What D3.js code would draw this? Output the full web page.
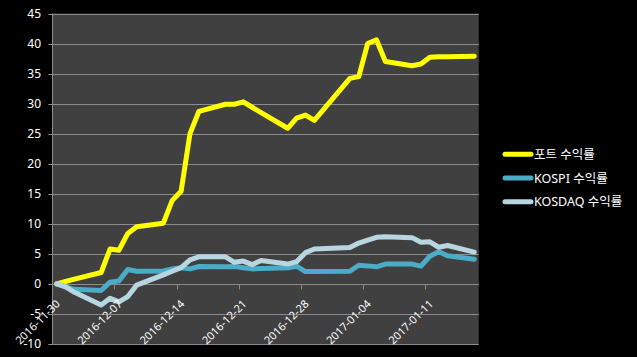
<!DOCTYPE html>
<html><head><meta charset="utf-8">
<script src="https://cdn.jsdelivr.net/npm/d3@7"></script>
<style>html,body{margin:0;padding:0;background:#000;}svg{display:block;}</style>
</head><body>
<script>
const dates = ["2016-11-30","2016-12-01","2016-12-02","2016-12-05","2016-12-06","2016-12-07","2016-12-08","2016-12-09",
"2016-12-12","2016-12-13","2016-12-14","2016-12-15","2016-12-16","2016-12-19","2016-12-20","2016-12-21","2016-12-22","2016-12-23",
"2016-12-26","2016-12-27","2016-12-28","2016-12-29","2017-01-02","2017-01-03","2017-01-04","2017-01-05","2017-01-06",
"2017-01-09","2017-01-10","2017-01-11","2017-01-12","2017-01-13","2017-01-16"];
const portReturn = [0,0.4,0.8,1.9,5.8,5.6,8.4,9.5,10.1,13.9,15.4,25.0,28.7,29.9,29.9,30.3,29.4,28.5,25.9,27.6,28.1,27.2,34.2,34.5,40.0,40.6,37.0,36.3,36.6,37.7,37.8,37.8,37.9];
const kospiReturn = [0,-0.5,-0.9,-1.1,0.3,0.5,2.4,2.1,2.15,2.5,2.7,2.5,2.9,2.85,2.9,2.7,2.5,2.55,2.7,2.95,2.05,2.05,2.1,3.1,3.0,2.85,3.3,3.3,2.95,4.6,5.35,4.7,4.1];
const kosdaqReturn = [0,-0.5,-1.4,-3.5,-2.4,-3.0,-2.1,-0.2,1.5,2.1,2.7,4.0,4.5,4.5,3.6,3.8,3.2,3.9,3.3,3.7,5.2,5.8,6.05,6.8,7.3,7.75,7.85,7.7,6.95,7.0,6.1,6.4,5.3];
const seriesNames = ["포트 수익률","KOSPI 수익률","KOSDAQ 수익률"];
const seriesColors = ["#ffff00","#4aacc6","#b7d6e0"];
const yTicks = [-10,-5,0,5,10,15,20,25,30,35,40,45];
const xTickLabels = ["2016-11-30","2016-12-07","2016-12-14","2016-12-21","2016-12-28","2017-01-04","2017-01-11"];

const W = 637, H = 357;
const parse = d3.utcParse("%Y-%m-%d");
const DAY = 86400000;
const L = 52.3, R = 478.7, T = 13.5, B = 344;
const first = parse(dates[0]), last = parse(dates[dates.length-1]);
const x = d3.scaleUtc().domain([new Date(+first - DAY/2), new Date(+last + DAY/2)]).range([L, R]);
const y = d3.scaleLinear().domain([-10,45]).range([B, T]);
const FONT = "'Noto Sans', 'Noto Sans CJK KR', sans-serif";

const svg = d3.select("body").append("svg").attr("width", W).attr("height", H);
svg.append("rect").attr("width", W).attr("height", H).attr("fill", "#000");
svg.append("rect").attr("x", L).attr("y", T).attr("width", R-L).attr("height", B-T).attr("fill", "#404040");

const gridColor = "#8c8c8c";
svg.append("g").selectAll("line").data(yTicks).join("line")
  .attr("x1", L - 4).attr("x2", R)
  .attr("y1", d => Math.round(y(d)) + 0.5).attr("y2", d => Math.round(y(d)) + 0.5)
  .attr("stroke", gridColor).attr("stroke-width", 1);
svg.append("line").attr("x1", Math.round(L)+0.5).attr("x2", Math.round(L)+0.5).attr("y1", T).attr("y2", B)
  .attr("stroke", gridColor);
svg.append("g").selectAll("text").data(yTicks).join("text")
  .attr("x", 41).attr("y", d => y(d)).attr("dy", "0.36em")
  .attr("text-anchor", "end").attr("fill", "#ffffff")
  .attr("font-family", FONT).attr("font-size", 12)
  .text(d => d);

const y0 = Math.round(y(0)) + 0.5;
svg.append("g").selectAll("line").data(xTickLabels).join("line")
  .attr("x1", d => Math.round(x(new Date(+parse(d) - DAY/2))) + 0.5)
  .attr("x2", d => Math.round(x(new Date(+parse(d) - DAY/2))) + 0.5)
  .attr("y1", y0).attr("y2", y0 + 5)
  .attr("stroke", gridColor);

const line = d3.line().x((d,i) => x(parse(dates[i]))).y(d => y(d));
[portReturn, kospiReturn, kosdaqReturn].forEach((vals, k) => {
  svg.append("path").datum(vals).attr("d", line)
    .attr("fill", "none").attr("stroke", seriesColors[k]).attr("stroke-width", 5)
    .attr("stroke-linejoin", "round").attr("stroke-linecap", "round");
});

svg.append("g").selectAll("text").data(xTickLabels).join("text")
  .attr("transform", d => `translate(${x(parse(d)) + 4},${304.5}) rotate(-45)`)
  .attr("text-anchor", "end").attr("fill", "#ffffff")
  .attr("font-family", FONT).attr("font-size", 11)
  .text(d => d);

const legY = [154.3, 178.1, 201.7];
const lg = svg.append("g");
seriesNames.forEach((name, k) => {
  lg.append("line").attr("x1", 505).attr("x2", 531).attr("y1", legY[k]).attr("y2", legY[k])
    .attr("stroke", seriesColors[k]).attr("stroke-width", 5).attr("stroke-linecap", "round");
  lg.append("text").attr("x", 534).attr("y", legY[k]).attr("dy", "0.38em")
    .attr("fill", "#ffffff").attr("font-family", FONT).attr("font-size", 12.5)
    .text(name);
});
</script>
</body></html>
